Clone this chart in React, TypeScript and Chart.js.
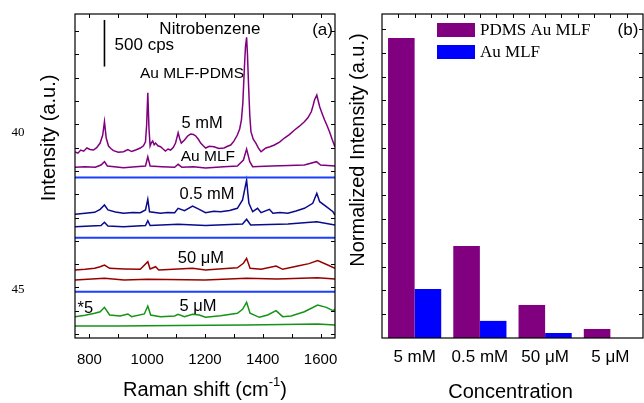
import { useEffect, useRef } from "react";
import { Chart, registerables } from "chart.js";

Chart.register(...registerables);

const SANS = '"Liberation Sans", Arial, sans-serif';
const SERIF = '"Liberation Serif", "Times New Roman", serif';

// ---------- Panel (a): Raman spectra (Raman shift cm-1, intensity cps) ----------
const RAMAN_MIN = 750;
const RAMAN_MAX = 1650;
const INTENSITY_MIN = -43;
const INTENSITY_MAX = 3434;
const RAMAN_LABEL_TICKS = [800, 1000, 1200, 1400, 1600];
const RAMAN_MINOR_TICKS = [800, 900, 1000, 1100, 1200, 1300, 1400, 1500, 1600];
const INTENSITY_TICKS = [0, 250, 500, 750, 1000, 1250, 1500, 1750, 2000, 2250, 2500, 2750, 3000, 3250];

const PDMS_5MM: [number, number][] = [
  [750, 1953], [760, 1940], [770, 1974], [780, 1962], [791, 1996], [802, 1980], [814, 1974], [825, 2000],
  [837, 2049], [846, 2135], [852, 2278], [858, 2103], [866, 2017], [874, 1990], [883, 1967], [900, 1950],
  [918, 1956], [933, 1980], [946, 1958], [960, 1975], [976, 1996], [987, 2020],
  [994, 2063], [998, 2243], [1002, 2589], [1006, 2210], [1010, 2017], [1014, 2050], [1019, 2071], [1024, 2030],
  [1029, 2049], [1037, 2020], [1046, 2010], [1055, 1985], [1063, 1964], [1072, 1985], [1081, 1974], [1090, 2000],
  [1098, 2049], [1103, 2110], [1107, 2160], [1112, 2100], [1118, 2049], [1129, 2082], [1140, 2125],
  [1150, 2146], [1160, 2140], [1168, 2125], [1177, 2090], [1185, 2049], [1194, 2020], [1202, 1996], [1215, 2015],
  [1231, 2010], [1248, 1990], [1266, 1996], [1278, 2015], [1289, 2028], [1300, 2070],
  [1312, 2135], [1320, 2200], [1326, 2296], [1331, 2480], [1336, 2833], [1340, 3080], [1344, 3184], [1347, 3000],
  [1351, 2654], [1355, 2350], [1359, 2171], [1367, 2090], [1376, 2049], [1385, 1995],
  [1394, 1956], [1402, 1975], [1411, 1996], [1425, 2010], [1440, 2028], [1458, 2060], [1475, 2103], [1492, 2140],
  [1510, 2189], [1527, 2230], [1544, 2278], [1556, 2320], [1568, 2385], [1574, 2450],
  [1579, 2511], [1587, 2564], [1592, 2500], [1597, 2439], [1605, 2370], [1614, 2296], [1622, 2240], [1631, 2171],
  [1640, 2090], [1650, 2007],
];
const AU_5MM: [number, number][] = [
  [750, 1789], [785, 1795], [820, 1789], [840, 1813], [852, 1849], [862, 1803], [918, 1784], [960, 1795], [994, 1803],
  [1002, 1902], [1010, 1803], [1050, 1795], [1095, 1789], [1107, 1821], [1120, 1789], [1160, 1795], [1202, 1781], [1266, 1795],
  [1312, 1803], [1333, 1867], [1344, 1985], [1355, 1849], [1365, 1795], [1429, 1803], [1490, 1808], [1544, 1813],
  [1586, 1849], [1600, 1813], [1650, 1803],
];
const PDMS_05MM: [number, number][] = [
  [750, 1284], [785, 1295], [818, 1306], [837, 1338], [852, 1384], [864, 1331], [890, 1310], [918, 1295], [950, 1305], [976, 1302],
  [994, 1331], [1002, 1445], [1008, 1312], [1046, 1295], [1070, 1305], [1095, 1302], [1107, 1349], [1129, 1323],
  [1157, 1373], [1180, 1338], [1202, 1302], [1230, 1318], [1254, 1312], [1285, 1325], [1312, 1349], [1330, 1438], [1338, 1560],
  [1344, 1652], [1348, 1520], [1352, 1402], [1365, 1312], [1382, 1349], [1394, 1302], [1423, 1338], [1435, 1295], [1460, 1305],
  [1487, 1295], [1515, 1320], [1544, 1349], [1573, 1402], [1587, 1510], [1597, 1420], [1620, 1366], [1643, 1312], [1650, 1277],
];
const AU_05MM: [number, number][] = [
  [750, 1151], [840, 1164], [852, 1199], [864, 1159], [918, 1151], [994, 1164], [1002, 1216],
  [1010, 1164], [1107, 1177], [1202, 1164], [1330, 1180], [1344, 1231], [1358, 1170], [1487, 1180],
  [1587, 1205], [1650, 1170],
];
const PDMS_50UM: [number, number][] = [
  [750, 687], [785, 695], [818, 705], [837, 722], [852, 740], [870, 705], [920, 698], [976, 694], [1002, 776], [1010, 697],
  [1029, 722], [1040, 687], [1107, 697], [1157, 705], [1202, 687], [1260, 700], [1312, 711], [1333, 759],
  [1344, 812], [1356, 705], [1394, 694], [1446, 730], [1469, 694], [1521, 730], [1560, 755], [1590, 787],
  [1625, 740], [1650, 705],
];
const AU_50UM: [number, number][] = [
  [750, 579], [852, 598], [920, 579], [1002, 587], [1200, 579], [1344, 598], [1450, 590],
  [1590, 604], [1650, 590],
];
const PDMS_5UM: [number, number][] = [
  [750, 186], [785, 200], [818, 222], [837, 239], [852, 286], [870, 204], [906, 193], [933, 215], [946, 186],
  [990, 215], [1002, 300], [1012, 204], [1046, 186], [1095, 193], [1107, 211], [1129, 186],
  [1157, 211], [1180, 204], [1202, 179], [1254, 196], [1312, 222], [1330, 265], [1344, 340],
  [1356, 222], [1388, 179], [1417, 204], [1446, 250], [1469, 186], [1498, 193], [1544, 239],
  [1590, 311], [1620, 286], [1643, 250], [1650, 265],
];
const AU_5UM: [number, number][] = [
  [750, 86], [900, 86], [1100, 91], [1344, 97], [1590, 107], [1650, 97],
];
const SEPARATORS = [1679, 1033, 454];
const SCALE_BAR: [number, number][] = [[852, 2870], [852, 3370]];

// ---------- Panel (b): bar chart ----------
const CONCENTRATIONS = ["5 mM", "0.5 mM", "50 \u03bcM", "5 \u03bcM"];
const PDMS_AU_MLF = [12.62, 3.87, 1.39, 0.38];
const AU_MLF = [2.06, 0.72, 0.21, 0];
const NORM_MAX = 13.63;
const NORM_TICKS = [1, 2, 3, 4, 5, 6, 7, 8, 9, 10, 11, 12, 13];

const PURPLE = "#800080";
const NAVY = "#0a0a8c";
const DARKRED = "#960000";
const GREEN = "#149414";
const SEP_BLUE = "#1a3fff";

function toPts(arr: [number, number][]) {
  return arr.map(([x, y]) => ({ x, y }));
}

function drawFrame(ctx: CanvasRenderingContext2D, a: any) {
  ctx.save();
  ctx.strokeStyle = "#000";
  ctx.lineWidth = 1.2;
  ctx.strokeRect(a.left, a.top, a.right - a.left, a.bottom - a.top);
  ctx.restore();
}

const panelAPlugin = {
  id: "panelA",
  afterDatasetsDraw(chart: any) {
    const ctx: CanvasRenderingContext2D = chart.ctx;
    const a = chart.chartArea;
    const xs = chart.scales.x;
    const ys = chart.scales.y;
    drawFrame(ctx, a);
    ctx.save();
    ctx.strokeStyle = "#000";
    ctx.lineWidth = 1;
    const TL = 4;
    ctx.beginPath();
    for (const v of RAMAN_MINOR_TICKS) {
      const px = Math.round(xs.getPixelForValue(v)) + 0.5;
      ctx.moveTo(px, a.bottom); ctx.lineTo(px, a.bottom - TL);
      ctx.moveTo(px, a.top); ctx.lineTo(px, a.top + TL);
    }
    for (const v of INTENSITY_TICKS) {
      const py = Math.round(ys.getPixelForValue(v)) + 0.5;
      ctx.moveTo(a.left, py); ctx.lineTo(a.left + TL, py);
      ctx.moveTo(a.right, py); ctx.lineTo(a.right - TL, py);
    }
    ctx.stroke();

    ctx.fillStyle = "#000";
    ctx.textAlign = "center";
    ctx.textBaseline = "middle";
    ctx.font = `15px ${SANS}`;
    for (const v of RAMAN_LABEL_TICKS) {
      ctx.fillText(String(v), xs.getPixelForValue(v), a.bottom + 22);
    }

    const cx = (a.left + a.right) / 2;
    const ty = 390;
    ctx.font = `20px ${SANS}`;
    const p1 = "Raman shift (cm";
    const p3 = ")";
    const w1 = ctx.measureText(p1).width;
    const w3 = ctx.measureText(p3).width;
    ctx.font = `13px ${SANS}`;
    const w2 = ctx.measureText("-1").width;
    const total = w1 + w2 + w3;
    const sx = cx - total / 2;
    ctx.textAlign = "left";
    ctx.font = `20px ${SANS}`;
    ctx.fillText(p1, sx, ty);
    ctx.font = `13px ${SANS}`;
    ctx.fillText("-1", sx + w1, ty - 8);
    ctx.font = `20px ${SANS}`;
    ctx.fillText(p3, sx + w1 + w2, ty);

    ctx.save();
    ctx.translate(49, 138);
    ctx.rotate(-Math.PI / 2);
    ctx.textAlign = "center";
    ctx.font = `20px ${SANS}`;
    ctx.fillText("Intensity (a.u.)", 0, 0);
    ctx.restore();

    ctx.font = `13px ${SERIF}`;
    ctx.textAlign = "center";
    ctx.fillText("40", 18, 133);
    ctx.fillText("45", 18, 290);

    const label = (t: string, x: number, y: number, size: number, align: CanvasTextAlign = "center") => {
      ctx.font = `${size}px ${SANS}`;
      ctx.textAlign = align;
      ctx.fillText(t, xs.getPixelForValue(x), ys.getPixelForValue(y));
    };
    label("Nitrobenzene", 1217, 3273, 17);
    label("500 cps", 887, 3101, 17, "left");
    label("Au MLF-PDMS", 1155, 2790, 15.5);
    label("5 mM", 1190, 2264, 16.5);
    label("Au MLF", 1210, 1899, 15.5);
    label("0.5 mM", 1207, 1502, 16.5);
    label("50 \u03bcM", 1186, 815, 16.5);
    label("5 \u03bcM", 1176, 300, 16.5);
    label("*5", 786, 279, 16.5);
    label("(a)", 1607, 3262, 17);
    ctx.restore();
  },
};

const panelBPlugin = {
  id: "panelB",
  afterDatasetsDraw(chart: any) {
    const ctx: CanvasRenderingContext2D = chart.ctx;
    const a = chart.chartArea;
    const xs = chart.scales.x;
    const ys = chart.scales.y;
    drawFrame(ctx, a);
    ctx.save();
    ctx.strokeStyle = "#000";
    ctx.lineWidth = 1;
    const TL = 4;
    ctx.beginPath();
    for (const v of NORM_TICKS) {
      const py = Math.round(ys.getPixelForValue(v)) + 0.5;
      ctx.moveTo(a.left, py); ctx.lineTo(a.left + TL, py);
      ctx.moveTo(a.right, py); ctx.lineTo(a.right - TL, py);
    }
    for (let k = 1; k < CONCENTRATIONS.length * 4; k++) {
      const px = Math.round(xs.getPixelForValue(-0.5 + k * 0.25)) + 0.5;
      ctx.moveTo(px, a.top); ctx.lineTo(px, a.top + TL);
    }
    ctx.stroke();

    ctx.fillStyle = "#000";
    ctx.textBaseline = "middle";
    ctx.textAlign = "center";
    ctx.font = `17px ${SANS}`;
    CONCENTRATIONS.forEach((c, i) => {
      ctx.fillText(c, xs.getPixelForValue(i), a.bottom + 19);
    });
    ctx.font = `20px ${SANS}`;
    ctx.fillText("Concentration", (a.left + a.right) / 2 - 2, 392);

    ctx.save();
    ctx.translate(18, 150);
    ctx.rotate(-Math.PI / 2);
    ctx.fillText("Normalized Intensity (a.u.)", 0, 0);
    ctx.restore();

    const ds = chart.data.datasets;
    ds.forEach((d: any, i: number) => {
      const bx = a.left + 55;
      const by = a.top + 9 + i * 22;
      ctx.fillStyle = d.backgroundColor;
      ctx.fillRect(bx, by, 38, 14);
      ctx.fillStyle = "#000";
      ctx.textAlign = "left";
      ctx.font = `17px ${SERIF}`;
      ctx.fillText(d.label, bx + 43, by + 7.5);
    });

    ctx.font = `17px ${SANS}`;
    ctx.textAlign = "center";
    ctx.fillText("(b)", a.right - 15, a.top + 16);
    ctx.restore();
  },
};

export default function App() {
  const refA = useRef<HTMLCanvasElement>(null);
  const refB = useRef<HTMLCanvasElement>(null);

  useEffect(() => {
    const lineDs = (data: [number, number][], color: string, width = 1.5) => ({
      data: toPts(data),
      borderColor: color,
      borderWidth: width,
      pointRadius: 0,
      tension: 0,
      fill: false,
    });
    const chartA = new Chart(refA.current!, {
      type: "line",
      data: {
        datasets: [
          ...SEPARATORS.map((s) => lineDs([[RAMAN_MIN, s], [RAMAN_MAX, s]], SEP_BLUE, 2)),
          lineDs(PDMS_5MM, PURPLE),
          lineDs(AU_5MM, PURPLE),
          lineDs(PDMS_05MM, NAVY),
          lineDs(AU_05MM, NAVY),
          lineDs(PDMS_50UM, DARKRED),
          lineDs(AU_50UM, DARKRED),
          lineDs(PDMS_5UM, GREEN),
          lineDs(AU_5UM, GREEN),
          lineDs(SCALE_BAR, "#000", 1.6),
        ] as any,
      },
      options: {
        animation: false,
        responsive: false,
        events: [],
        layout: { padding: { left: 75, right: 5, top: 14, bottom: 65 } },
        plugins: { legend: { display: false }, tooltip: { enabled: false } },
        scales: {
          x: { type: "linear", display: false, min: RAMAN_MIN, max: RAMAN_MAX },
          y: { type: "linear", display: false, min: INTENSITY_MIN, max: INTENSITY_MAX },
        },
      },
      plugins: [panelAPlugin],
    });

    const chartB = new Chart(refB.current!, {
      type: "bar",
      data: {
        labels: CONCENTRATIONS,
        datasets: [
          { label: "PDMS Au MLF", data: PDMS_AU_MLF, backgroundColor: PURPLE, categoryPercentage: 0.815, barPercentage: 1.0 },
          { label: "Au MLF", data: AU_MLF, backgroundColor: "#0000ff", categoryPercentage: 0.815, barPercentage: 1.0 },
        ],
      },
      options: {
        animation: false,
        responsive: false,
        events: [],
        layout: { padding: { left: 42, right: 1, top: 14, bottom: 65 } },
        plugins: { legend: { display: false }, tooltip: { enabled: false } },
        scales: {
          x: { type: "category", display: false, offset: true },
          y: { type: "linear", display: false, min: 0, max: NORM_MAX },
        },
      },
      plugins: [panelBPlugin],
    });

    return () => {
      chartA.destroy();
      chartB.destroy();
    };
  }, []);

  return (
    <div style={{ position: "fixed", left: 0, top: 0, width: 644, height: 403, background: "#fff" }}>
      <canvas ref={refA} width={340} height={403} style={{ position: "absolute", left: 0, top: 0 }} />
      <canvas ref={refB} width={304} height={403} style={{ position: "absolute", left: 340, top: 0 }} />
    </div>
  );
}
